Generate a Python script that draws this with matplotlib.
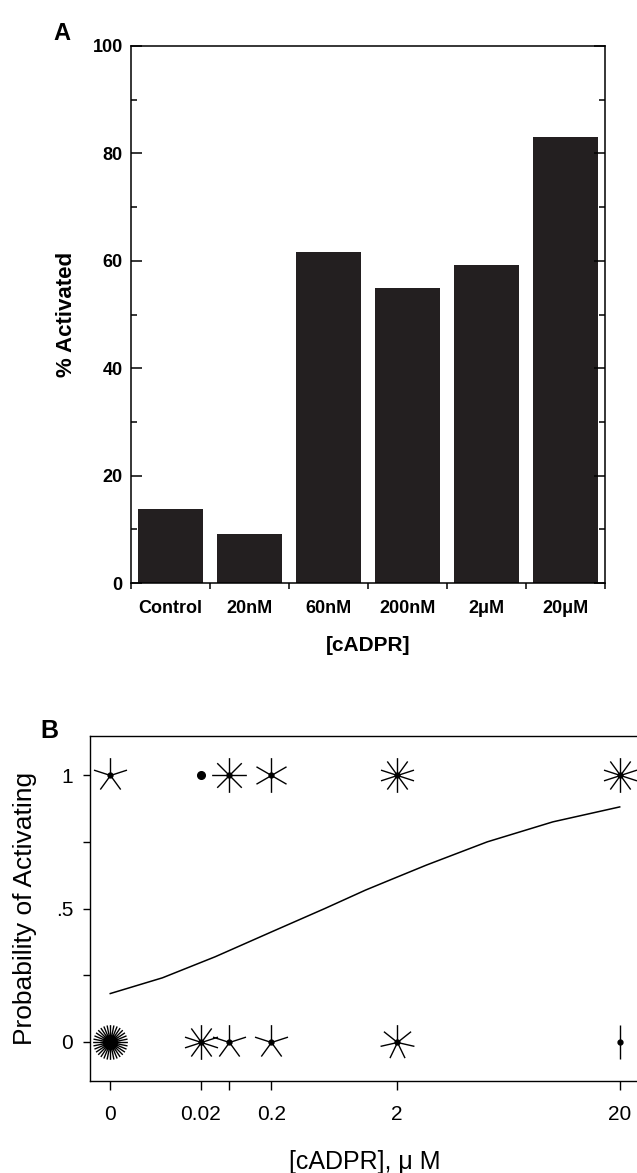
"""Recreate cADPR activation figure (panels A and B)."""
import numpy as np
import matplotlib
matplotlib.use('Agg')
import matplotlib.pyplot as plt
from matplotlib.path import Path

plt.rcParams.update({
    'font.family': ['Liberation Sans', 'DejaVu Sans'],
    'axes.linewidth': 1.1,
    'text.color': 'black',
})

# Panel A: percent of channels activated per concentration
conc_labels = ['Control', '20nM', '60nM', '200nM', '2μM', '20μM']
pct_activated = [13.7, 9.1, 61.6, 54.9, 59.2, 83.1]

# Panel B: counts of activating / non-activating trials per dose (sunflower plot)
dose_um = [0, 0.02, 0.06, 0.2, 2, 20]
dose_ticklabels = ['0', '0.02', '', '0.2', '2', '20']
n_activated = [5, 1, 8, 6, 10, 10]
n_not_activated = [32, 10, 5, 5, 7, 2]

# fitted probability curve
fit_dose = [0, 0.0022, 0.036, 0.20, 0.63, 1.26, 1.82, 2.97, 6.0, 11.4, 20]
fit_prob = [0.181, 0.24, 0.319, 0.412, 0.50, 0.569, 0.607, 0.663, 0.75, 0.825, 0.881]

W, H = 637, 1173
fig = plt.figure(figsize=(W / 100, H / 100), dpi=100)


def box(left, top, right, bottom):
    # pixel box -> figure fraction rect
    return [left / W, 1 - bottom / H, (right - left) / W, (bottom - top) / H]


# ---------------- Panel A ----------------
axA = fig.add_axes(box(131, 46, 605, 583))
x = np.arange(len(conc_labels))
axA.bar(x, pct_activated, width=0.82, color='#231f20')
axA.set_xlim(-0.5, len(conc_labels) - 0.5)
axA.set_ylim(0, 100)
axA.set_yticks(range(0, 101, 20))
axA.set_yticks(range(10, 100, 20), minor=True)
axA.tick_params(axis='y', which='major', direction='in', length=8, width=1.1,
                right=True, labelsize=13, pad=6)
axA.tick_params(axis='y', which='minor', direction='in', length=4, width=1.1,
                right=True)
axA.set_xticks(x)
axA.set_xticklabels(conc_labels)
axA.set_xticks(np.arange(-0.5, len(conc_labels), 1), minor=True)
axA.tick_params(axis='x', which='major', length=0, pad=12, labelsize=13)
axA.tick_params(axis='x', which='minor', direction='out', length=4, width=1.1)
for lbl in axA.get_xticklabels() + axA.get_yticklabels():
    lbl.set_fontweight('bold')
axA.set_ylabel('% Activated', fontsize=16, fontweight='bold')
axA.yaxis.set_label_coords(-0.114, 0.5)
axA.set_xlabel('[cADPR]', fontsize=15, fontweight='bold', va='top')
axA.xaxis.set_label_coords(0.5, -0.099)
fig.text(62 / W, 1 - 33 / H, 'A', fontsize=17, fontweight='bold',
         ha='center', va='center')

# ---------------- Panel B ----------------
axB = fig.add_axes(box(90, 736, 650, 1081))


def fwd(v):
    v = np.asarray(v, dtype=float)
    return np.sign(v) * np.abs(v) ** 0.25


def inv(v):
    v = np.asarray(v, dtype=float)
    return np.sign(v) * np.abs(v) ** 4


axB.set_xscale('function', functions=(fwd, inv))
axB.set_xlim(-5e-5, 25.2)
axB.set_ylim(-0.147, 1.147)


def sunflower(n):
    ang = np.pi / 2 + 2 * np.pi * np.arange(n) / n
    verts, codes = [], []
    for a in ang:
        verts += [(0, 0), (np.cos(a), np.sin(a))]
        codes += [Path.MOVETO, Path.LINETO]
    return Path(verts, codes)


for yval, counts in ((1, n_activated), (0, n_not_activated)):
    for d, n in zip(dose_um, counts):
        if n == 1:
            axB.plot(d, yval, 'o', ms=5.5, color='k')
            continue
        axB.plot(d, yval, marker=sunflower(n), ms=25, mew=1.0, mec='k',
                 mfc='none', ls='none')
        axB.plot(d, yval, 'o', ms=3.5, color='k')

axB.plot(fit_dose, fit_prob, color='k', lw=1.1)

axB.set_xticks(dose_um)
axB.set_xticklabels(dose_ticklabels)
axB.set_yticks([0, 0.25, 0.5, 0.75, 1])
axB.set_yticklabels(['0', '', '.5', '', '1'])
axB.tick_params(axis='x', direction='out', length=6.5, width=1.0,
                labelsize=15, pad=11)
axB.tick_params(axis='y', direction='out', length=5, width=1.0,
                labelsize=15, pad=7)
axB.spines['right'].set_visible(False)
for s in ('left', 'bottom', 'top'):
    axB.spines[s].set_linewidth(1.0)
axB.set_ylabel('Probability of Activating', fontsize=19)
axB.yaxis.set_label_coords(-0.095, 0.5)
axB.set_xlabel('[cADPR], μ M', fontsize=18, va='top')
axB.xaxis.set_label_coords(0.49, -0.2)
fig.text(49 / W, 1 - 731 / H, 'B', fontsize=18, fontweight='bold',
         ha='center', va='center')

fig.savefig('out.png', dpi=100)
plt.close(fig)
